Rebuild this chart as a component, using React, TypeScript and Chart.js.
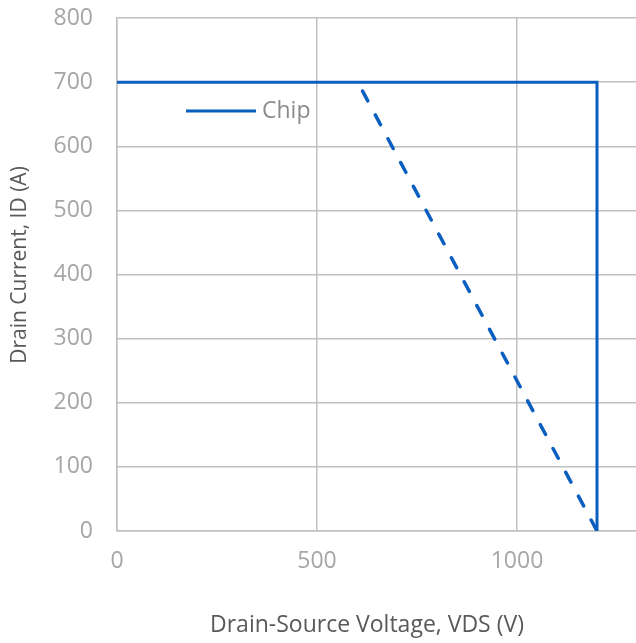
import React, { useEffect, useRef } from "react";
import { Chart, registerables } from "chart.js";

Chart.register(...registerables);

// Data
const chipVds = [0, 1200, 1200];
const chipId = [700, 700, 0];
const dashVds = [614, 1200];
const dashId = [686, 0];
const yTicks = [0, 100, 200, 300, 400, 500, 600, 700, 800];
const xTicks = [0, 500, 1000];
const seriesName = "Chip";
const xTitle = "Drain-Source Voltage, VDS (V)";
const yTitle = "Drain Current, ID (A)";

const FONT = "'Open Sans', 'Noto Sans', sans-serif";
const BLUE = "#0a5ebf";

export default function App() {
  const ref = useRef<HTMLCanvasElement | null>(null);

  useEffect(() => {
    if (!ref.current) return;
    const extras = {
      id: "extras",
      afterDraw(chart: any) {
        const ctx = chart.ctx;
        ctx.save();
        // legend inside the plot
        const ly = 111;
        ctx.strokeStyle = BLUE;
        ctx.lineWidth = 3;
        ctx.beginPath();
        ctx.moveTo(186, ly);
        ctx.lineTo(256, ly);
        ctx.stroke();
        ctx.fillStyle = "#8c8c8c";
        ctx.font = `23px ${FONT}`;
        ctx.textBaseline = "middle";
        ctx.textAlign = "left";
        ctx.fillText(seriesName, 262, ly);
        // axis titles
        ctx.fillStyle = "#595959";
        ctx.font = `23px ${FONT}`;
        ctx.textAlign = "center";
        ctx.fillText(xTitle, 367, 625);
        ctx.font = `21px ${FONT}`;
        ctx.translate(20, 265);
        ctx.rotate(-Math.PI / 2);
        ctx.fillText(yTitle, 0, 0);
        ctx.restore();
      },
    };
    const chart = new Chart(ref.current, {
      type: "line",
      data: {
        datasets: [
          {
            label: seriesName,
            data: chipVds.map((x, i) => ({ x, y: chipId[i] })),
            borderColor: BLUE,
            borderWidth: 3,
            pointRadius: 0,
            fill: false,
            tension: 0,
          },
          {
            label: "limit",
            data: dashVds.map((x, i) => ({ x, y: dashId[i] })),
            borderColor: BLUE,
            borderWidth: 3.5,
            borderDash: [11, 16],
            borderCapStyle: "round",
            pointRadius: 0,
            fill: false,
            tension: 0,
          },
        ],
      },
      options: {
        animation: false,
        responsive: true,
        maintainAspectRatio: false,
        layout: { padding: { top: 18, right: 0, left: 0, bottom: 0 } },
        plugins: {
          legend: { display: false },
          tooltip: { enabled: false },
        },
        scales: {
          x: {
            type: "linear",
            min: 0,
            max: 1297.5,
            afterFit: (s: any) => {
              s.height = 112;
              s.paddingLeft = 0;
              s.paddingRight = 0;
            },
            afterBuildTicks: (s: any) => {
              s.ticks = xTicks.map((v) => ({ value: v }));
            },
            ticks: {
              includeBounds: false,
              padding: 17,
              color: "#a6a6a6",
              font: { family: FONT, size: 23 },
              maxRotation: 0,
              callback: (v: any) => String(v),
            },
            grid: { color: "#c0c0c0", lineWidth: 1.5, drawTicks: false },
            border: { color: "#c0c0c0", width: 1.5 },
          },
          y: {
            type: "linear",
            min: 0,
            max: 800,
            afterFit: (s: any) => {
              s.width = 117;
              s.paddingTop = 0;
              s.paddingBottom = 0;
            },
            afterBuildTicks: (s: any) => {
              s.ticks = yTicks.map((v) => ({ value: v }));
            },
            ticks: {
              padding: 24,
              color: "#a6a6a6",
              font: { family: FONT, size: 23 },
              callback: (v: any) => String(v),
            },
            grid: { color: "#c0c0c0", lineWidth: 1.5, drawTicks: false },
            border: { color: "#c0c0c0", width: 1.5 },
          },
        },
      },
      plugins: [extras],
    });
    return () => chart.destroy();
  }, []);

  return (
    <div style={{ position: "absolute", left: 0, top: 0, width: 636, height: 643, background: "#fff" }}>
      <canvas ref={ref} />
    </div>
  );
}
